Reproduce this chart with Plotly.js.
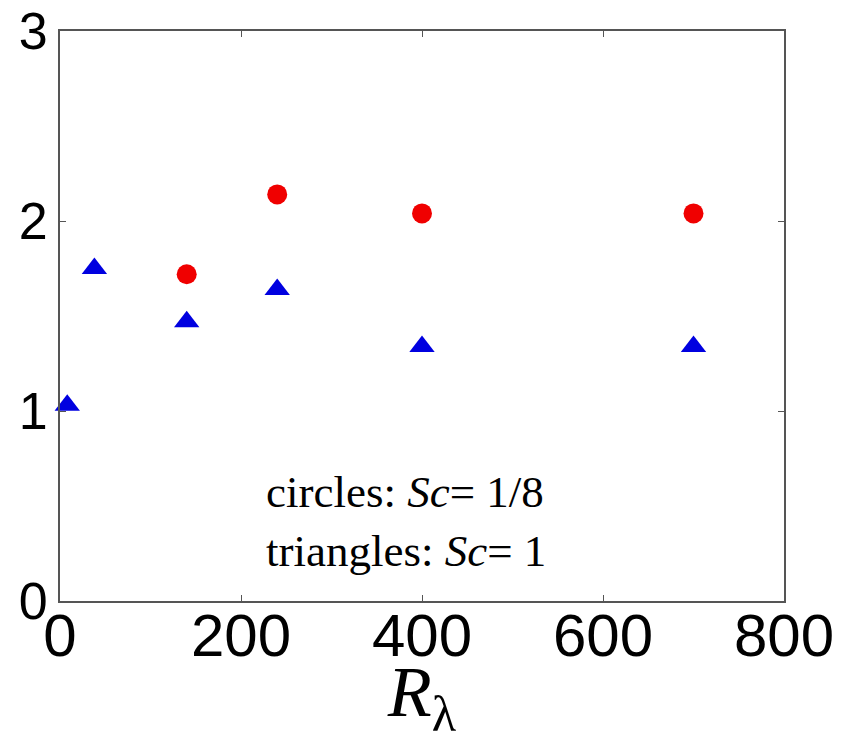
<!DOCTYPE html>
<html>
<head>
<meta charset="utf-8">
<script src="https://cdn.plot.ly/plotly-3.0.1.min.js"></script>
<style>html,body{margin:0;padding:0;background:#fff;}</style>
</head>
<body>
<div id="chart" style="width:850px;height:742px;"></div>
<script>
// Sc = 1/8 (circles)
const circleR = [140, 240, 400, 700];
const circleY = [1.72, 2.14, 2.04, 2.04];
// Sc = 1 (triangles)
const triR = [8, 38, 140, 240, 400, 700];
const triY = [1.03, 1.75, 1.47, 1.64, 1.34, 1.34];
const xTicks = [0, 200, 400, 600, 800];
const yTicks = [0, 1, 2, 3];

const traces = [
  {x: circleR, y: circleY, type: 'scatter', mode: 'markers', cliponaxis: false,
   marker: {symbol: 'circle', size: 20, color: '#f00000'}, name: 'Sc=1/8'},
  {x: triR, y: triY, type: 'scatter', mode: 'markers', cliponaxis: false,
   marker: {symbol: 'triangle-up', size: 22, color: '#0000e0'}, name: 'Sc=1'}
];

const axisCommon = {
  showline: true, linecolor: '#555', linewidth: 2, mirror: 'ticks',
  ticks: 'inside', ticklen: 6, tickwidth: 1, tickcolor: '#555',
  showgrid: false, zeroline: false
};

const layout = {
  width: 850, height: 742,
  margin: {l: 60, r: 66, t: 31, b: 141},
  paper_bgcolor: '#fff', plot_bgcolor: '#fff',
  showlegend: false,
  xaxis: Object.assign({}, axisCommon, {
    range: [0, 800], tickvals: xTicks, ticktext: xTicks.map(String),
    tickfont: {family: 'Liberation Sans, Arial, sans-serif', size: 60, color: '#000'},
    ticklabelstandoff: -19,
    title: {text: '<i>R</i><sub>λ</sub>', standoff: 6,
            font: {family: 'Liberation Serif, Times New Roman, serif', size: 72, color: '#000'}}
  }),
  yaxis: Object.assign({}, axisCommon, {
    range: [0, 3], tickvals: yTicks, ticktext: yTicks.map(String), ticklabelstandoff: 0,
    tickfont: {family: 'Liberation Sans, Arial, sans-serif', size: 52, color: '#000'}
  }),
  annotations: [{
    xref: 'paper', yref: 'paper', x: (264 - 60) / 724, y: (601 - 521) / 570,
    xanchor: 'left', yanchor: 'middle', align: 'left', showarrow: false,
    text: 'circles: <i>Sc</i>= 1/8<br>triangles: <i>Sc</i>= 1',
    font: {family: 'Liberation Serif, Times New Roman, serif', size: 45, color: '#000'}
  }]
};

Plotly.newPlot('chart', traces, layout, {displayModeBar: false, staticPlot: true});
</script>
</body>
</html>
